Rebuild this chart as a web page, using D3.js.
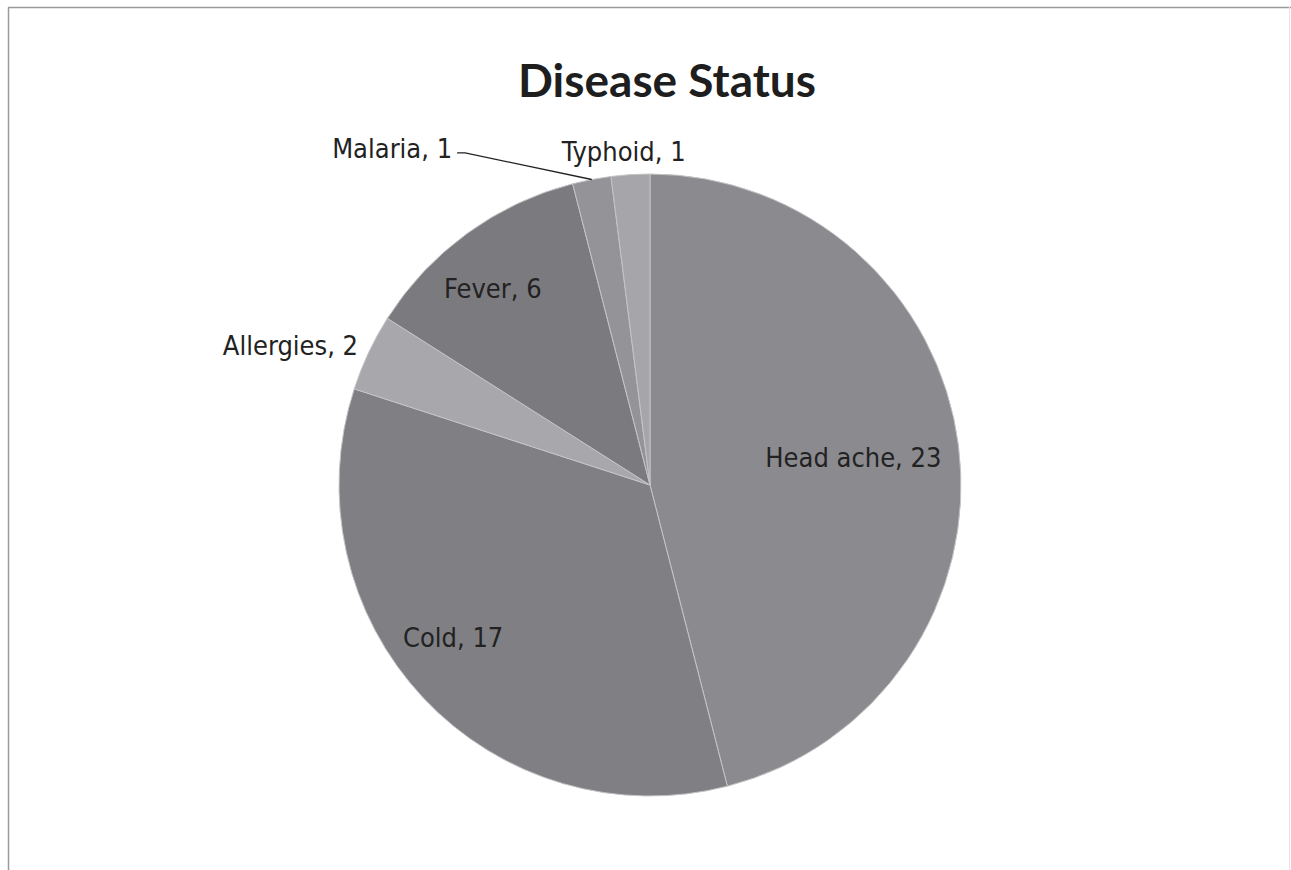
<!DOCTYPE html>
<html>
<head>
<meta charset="utf-8">
<script src="https://cdn.jsdelivr.net/npm/d3@7"></script>
<style>
  html, body { margin: 0; padding: 0; background: #fff; }
  svg { display: block; }
</style>
</head>
<body>
<svg id="chart" width="1291" height="870"></svg>
<script>
// Disease counts
const categories = ["Head ache", "Cold", "Allergies", "Fever", "Malaria", "Typhoid"];
const counts = [23, 17, 2, 6, 1, 1];
const sliceColors = ["#8b8b8f", "#808084", "#a8a8ac", "#7b7b7f", "#949498", "#a6a6aa"];

// Label placement: radius as fraction of pie radius, angular nudge in degrees
const labelRadius = [0.66, 0.80, 1.24, 0.81, 1.362, 1.077];
const labelNudge = [-0.6, 5.5, -4, -2.6, -26.7, -0.9];

const svg = d3.select("#chart");
const W = 1291, H = 870;
const cx = 650, cy = 485, R = 311;

// Frame
svg.append("line").attr("x1", 8.5).attr("y1", 7.5).attr("x2", 8.5).attr("y2", H)
  .attr("stroke", "#9a9a9a").attr("stroke-width", 1.5);
svg.append("line").attr("x1", 8).attr("y1", 7.5).attr("x2", W).attr("y2", 7.5)
  .attr("stroke", "#9a9a9a").attr("stroke-width", 1.5);
svg.append("line").attr("x1", 1289.5).attr("y1", 7).attr("x2", 1289.5).attr("y2", H)
  .attr("stroke", "#e4e4e4").attr("stroke-width", 1);

// Title
svg.append("text")
  .attr("x", 667).attr("y", 97)
  .attr("text-anchor", "middle")
  .attr("font-family", "Lato, 'Open Sans', sans-serif")
  .attr("font-weight", "bold")
  .attr("font-size", 46)
  .attr("fill", "#1e1e1e")
  .text("Disease Status");

const data = categories.map((c, i) => ({ name: c, value: counts[i], i }));

const pie = d3.pie().value(d => d.value).sort(null);
const arcs = pie(data);
const arc = d3.arc().innerRadius(0).outerRadius(R);

const g = svg.append("g").attr("transform", `translate(${cx},${cy})`);

g.selectAll("path.slice")
  .data(arcs)
  .join("path")
  .attr("class", "slice")
  .attr("d", arc)
  .attr("fill", d => sliceColors[d.data.i])
  .attr("stroke", "#c4c4c6")
  .attr("stroke-width", 1);

const toRad = Math.PI / 180;
function labelPos(d) {
  const a = (d.startAngle + d.endAngle) / 2 + labelNudge[d.data.i] * toRad;
  const r = R * labelRadius[d.data.i];
  return [r * Math.sin(a), -r * Math.cos(a)];
}

const labels = g.selectAll("text.lbl")
  .data(arcs)
  .join("text")
  .attr("class", "lbl")
  .attr("transform", d => `translate(${labelPos(d)})`)
  .attr("text-anchor", "middle")
  .attr("dy", "0.35em")
  .attr("font-family", "'DejaVu Sans Condensed', 'DejaVu Sans', Verdana, sans-serif")
  .attr("font-size", 27)
  .attr("fill", "#222")
  .text(d => `${d.data.name}, ${d.data.value}`);

// Leader line for the Malaria slice, starting just right of its label
const mal = arcs[4];
const ma = (mal.startAngle + mal.endAngle) / 2;
const edge = [R * Math.sin(ma), -R * Math.cos(ma)];
const mp = labelPos(mal);
const malWidth = labels.filter(d => d.data.i === 4).node().getComputedTextLength();
const lx = mp[0] + malWidth / 2 + 5;
g.append("polyline")
  .attr("points", [[lx, mp[1] + 4], [lx + 8, mp[1] + 4], edge].map(p => p.join(",")).join(" "))
  .attr("fill", "none")
  .attr("stroke", "#222")
  .attr("stroke-width", 1.3);
</script>
</body>
</html>
